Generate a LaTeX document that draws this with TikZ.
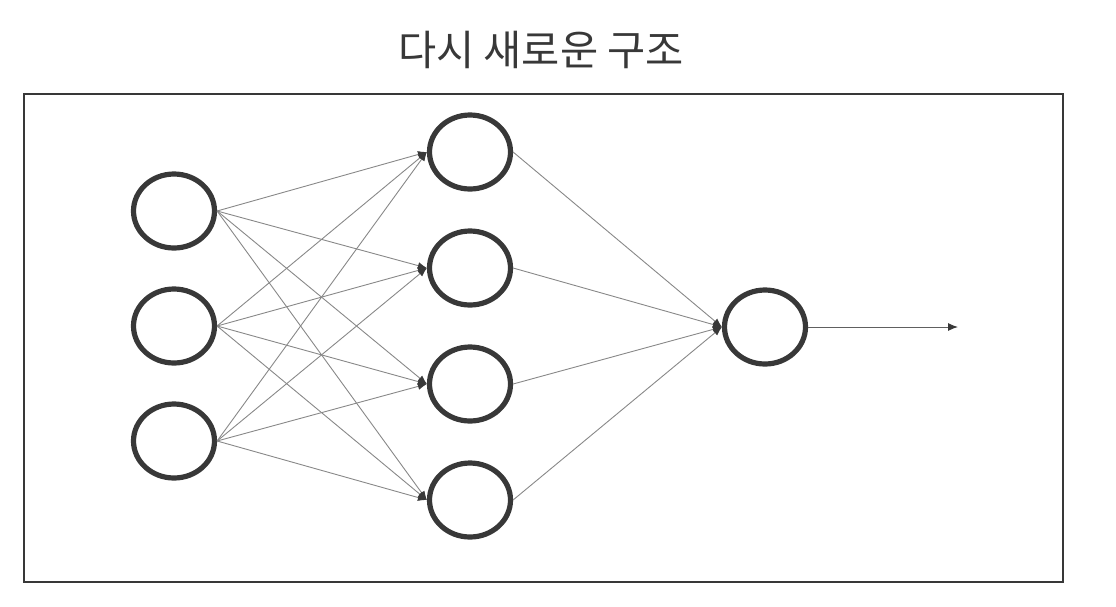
\documentclass[tikz,border=0pt]{standalone}
\usepackage{fontspec}
\newfontfamily\krfont{Noto Sans CJK KR}
\usetikzlibrary{shapes.geometric,arrows.meta}
\definecolor{ink}{HTML}{383838}
\definecolor{wire}{HTML}{888888}
\tikzset{
  neuron/.style={ellipse,draw=ink,line width=5.2pt,minimum width=81pt,minimum height=74pt,inner sep=0pt},
  link/.style={draw=wire,line width=0.9pt,-{Latex[length=9pt,width=7pt,color=ink]}},
  outlink/.style={draw=ink!80,line width=1pt,-{Latex[length=10pt,width=8pt,color=ink]}},
  frame/.style={draw=ink,line width=1.5pt}
}
\begin{document}
\begin{tikzpicture}[x=1pt,y=-1pt]
\useasboundingbox (0,0) rectangle (1116,606);
\node[font=\krfont\fontsize{41.5}{46}\selectfont,text=ink] (title) at (541,50) {다시 새로운 구조};
\draw[frame] (24,94) rectangle (1063,582);
\node[neuron] (i1) at (174,211) {};
\node[neuron] (i2) at (174,326) {};
\node[neuron] (i3) at (174,441) {};
\node[neuron] (h1) at (470,152) {};
\node[neuron] (h2) at (470,268) {};
\node[neuron] (h3) at (470,384) {};
\node[neuron] (h4) at (470,500) {};
\node[neuron] (o) at (765,327) {};
\coordinate (end) at (958,327);
\foreach \i in {i1,i2,i3}{
  \foreach \h in {h1,h2,h3,h4}{
    \draw[link] (\i.east) -- (\h.west);
  }
}
\foreach \h in {h1,h2,h3,h4}{
  \draw[link] (\h.east) -- (o.west);
}
\draw[outlink] (o.east) -- (end);
\end{tikzpicture}
\end{document}
